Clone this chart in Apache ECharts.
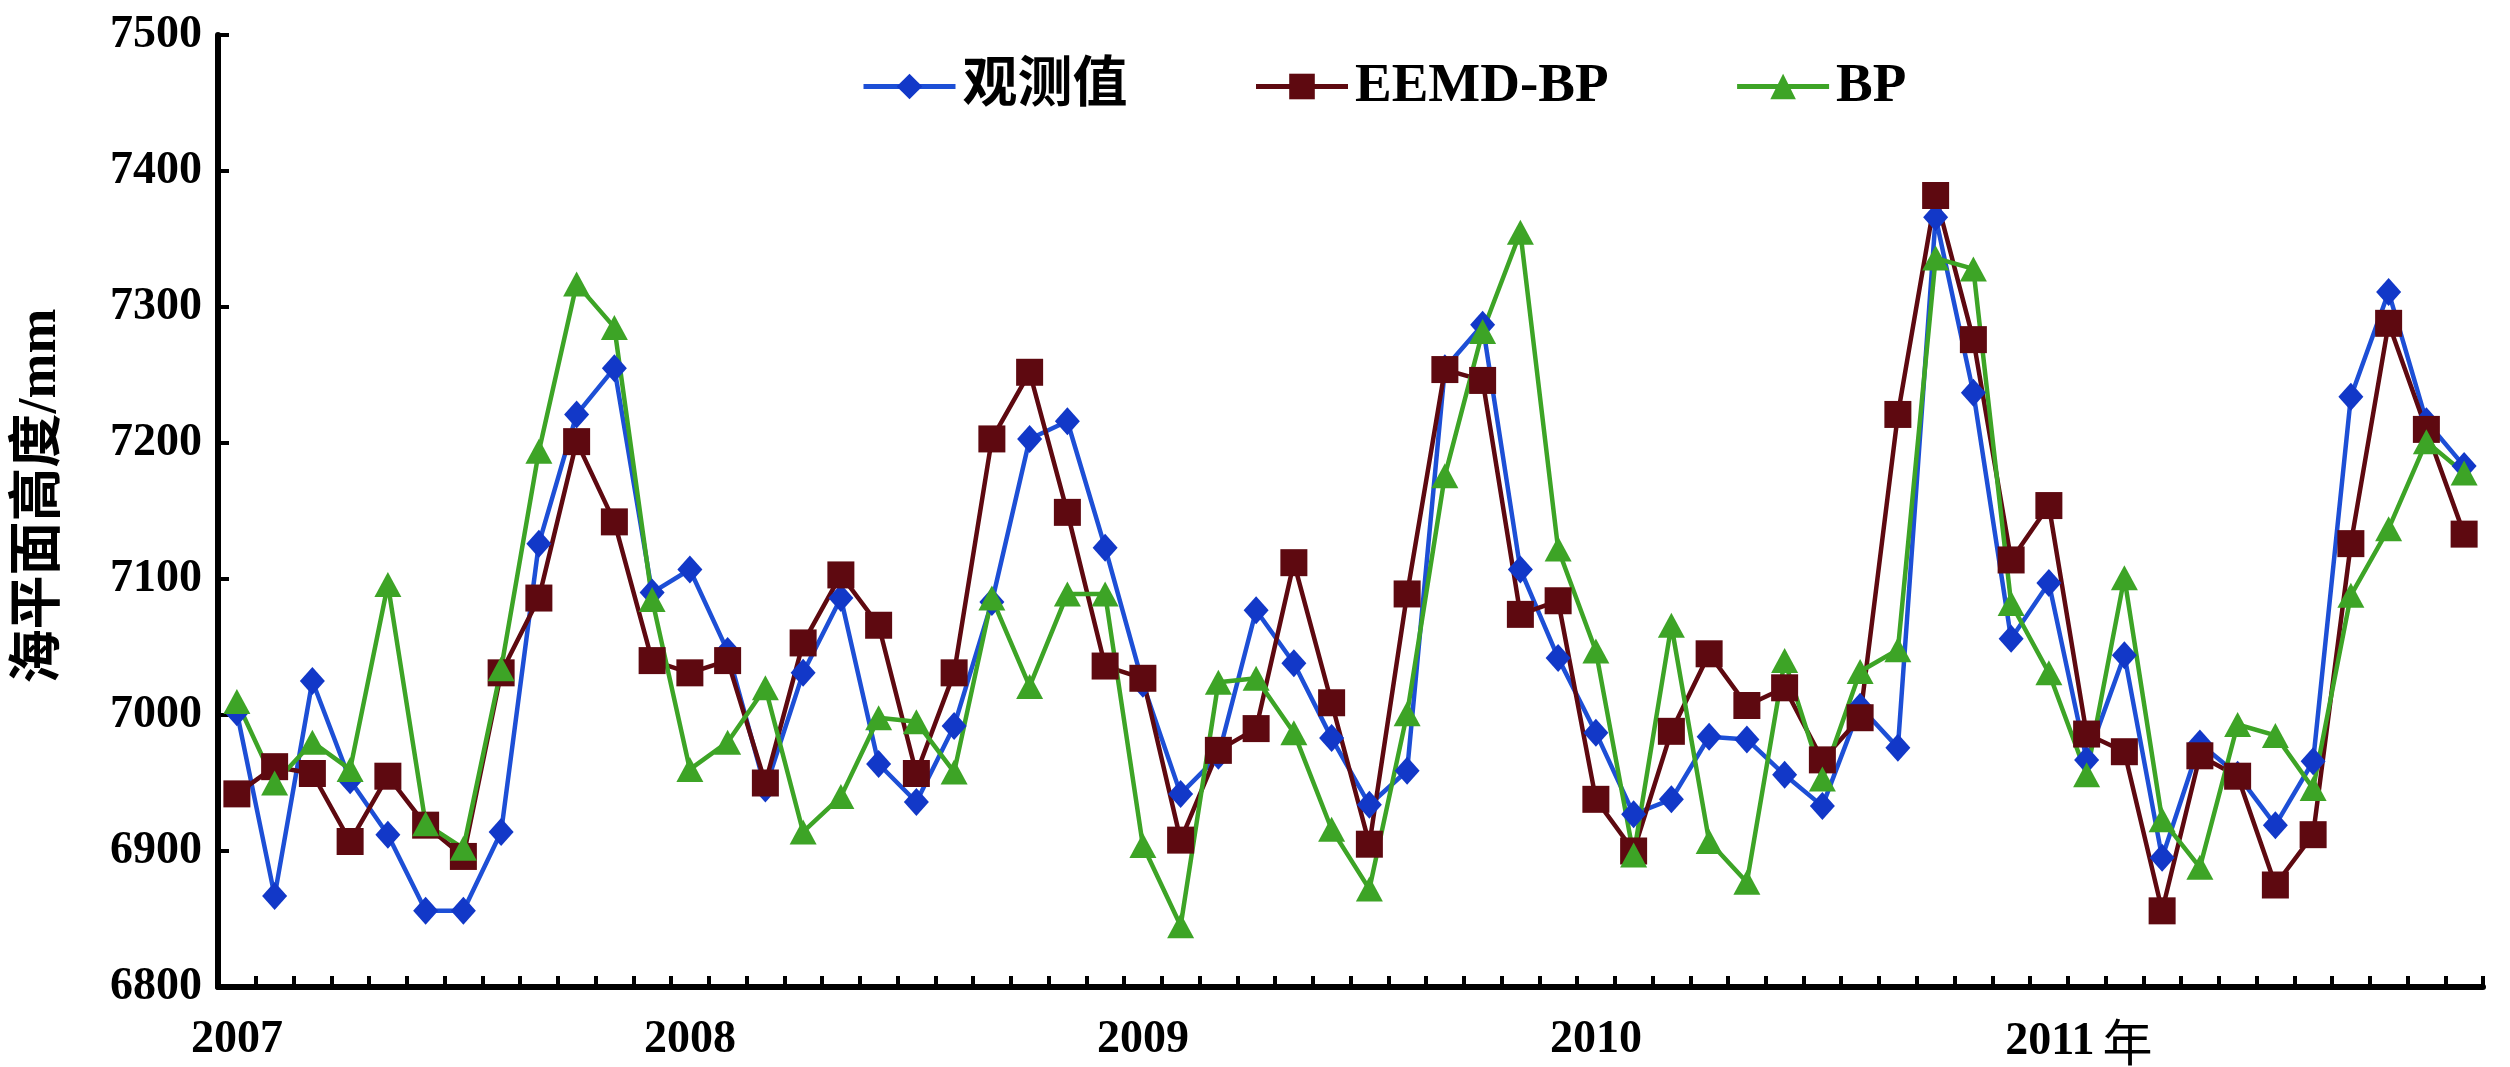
<!DOCTYPE html>
<html>
<head>
<meta charset="utf-8">
<script src="https://cdn.jsdelivr.net/npm/echarts@6/dist/echarts.min.js"></script>
<style>
html, body { margin: 0; padding: 0; background: #fff; }
#main { width: 2510px; height: 1067px; }
</style>
</head>
<body>
<div id="main"></div>
<script>
// 年份（每年12个月）
var years = ['2007', '2008', '2009', '2010', '2011'];
var yearLabels = ['2007', '2008', '2009', '2010', '2011'];

// 观测值
var observed = [
	7002, 6867, 7025, 6952, 6912, 6856, 6856, 6914, 7126, 7221, 7255, 7090,
	7107, 7047, 6946, 7031, 7086, 6964, 6936, 6992, 7083, 7203, 7216, 7123,
	7023, 6942, 6970, 7077, 7038, 6983, 6934, 6959, 7255, 7287, 7107, 7042,
	6987, 6927, 6938, 6984, 6982, 6956, 6933, 7006, 6976, 7366, 7237, 7056,
	7097, 6967, 7044, 6895, 6979, 6956, 6919, 6966, 7234, 7311, 7216, 7183
];
// EEMD-BP
var eemdBp = [
	6942, 6962, 6957, 6907, 6955, 6919, 6896, 7031, 7086, 7201, 7142, 7040,
	7031, 7040, 6950, 7053, 7103, 7066, 6957, 7031, 7203, 7252, 7149, 7036,
	7027, 6908, 6974, 6990, 7112, 7009, 6905, 7089, 7254, 7246, 7074, 7084,
	6938, 6900, 6988, 7045, 7007, 7020, 6967, 6998, 7221, 7382, 7276, 7114,
	7154, 6986, 6973, 6856, 6970, 6955, 6875, 6912, 7126, 7288, 7210, 7133
];
// BP
var bp = [
	7010, 6950, 6980, 6960, 7096, 6920, 6902, 7034, 7194, 7317, 7285, 7085,
	6960, 6980, 7020, 6914, 6940, 6998, 6995, 6958, 7086, 7021, 7089, 7089,
	6904, 6845, 7024, 7027, 6987, 6916, 6872, 7001, 7176, 7282, 7355, 7122,
	7047, 6897, 7066, 6907, 6877, 7040, 6953, 7032, 7048, 7336, 7328, 7082,
	7031, 6956, 7101, 6923, 6888, 6993, 6985, 6946, 7088, 7137, 7201, 7178
];

var months = [];
years.forEach(function (y) {
	for (var m = 1; m <= 12; m++) {
		months.push(y + '-' + (m < 10 ? '0' + m : m));
	}
});

var latinFont = "'Liberation Serif', 'Noto Sans CJK SC', serif";

var myChart = echarts.init(document.getElementById('main'));

option = {
	backgroundColor: '#fff',
	animation: false,
	grid: {
		left: 218,
		right: 27,
		top: 35,
		bottom: 80,
		containLabel: false
	},
	legend: {
		left: 856,
		top: 54,
		itemWidth: 92,
		itemHeight: 32,
		itemGap: 126,
		lineStyle: { width: 5 },
		textStyle: {
			fontFamily: latinFont,
			fontWeight: 'bold',
			fontSize: 55,
			color: '#000',
			padding: [0, 0, 0, 2]
		},
		data: ['观测值', 'EEMD-BP', 'BP']
	},
	xAxis: {
		type: 'category',
		boundaryGap: true,
		data: months,
		axisLine: {
			lineStyle: { color: '#000', width: 6 }
		},
		axisTick: {
			show: true,
			inside: true,
			interval: 0,
			length: 11,
			lineStyle: { color: '#000', width: 4 }
		},
		axisLabel: {
			interval: function (i) { return i % 12 === 0; },
			margin: 30,
			fontFamily: latinFont,
			fontWeight: 'bold',
			fontSize: 46,
			color: '#000',
			formatter: function (v, i) {
				var k = Math.floor(i / 12);
				if (k === yearLabels.length - 1) {
					return '{gap|}' + yearLabels[k] + '{nian|年}';
				}
				return yearLabels[k];
			},
			rich: {
				gap: { width: 60 },
				nian: {
					fontFamily: "'Noto Sans CJK SC'",
					fontSize: 50,
					fontWeight: 'normal',
					color: '#000',
					padding: [0, 0, 0, 8]
				}
			}
		},
		splitLine: { show: false }
	},
	yAxis: {
		type: 'value',
		min: 6800,
		max: 7500,
		interval: 100,
		name: '海平面高度/mm',
		nameLocation: 'middle',
		nameGap: 150,
		nameTextStyle: {
			fontFamily: latinFont,
			fontWeight: 'bold',
			fontSize: 54,
			color: '#000',
			padding: [0, 0, 0, 30]
		},
		axisLine: {
			show: true,
			lineStyle: { color: '#000', width: 6 }
		},
		axisTick: {
			show: true,
			inside: true,
			length: 11,
			lineStyle: { color: '#000', width: 4 }
		},
		axisLabel: {
			margin: 16,
			fontFamily: latinFont,
			fontWeight: 'bold',
			fontSize: 46,
			color: '#000',
			formatter: function (v) { return String(v); }
		},
		splitLine: { show: false }
	},
	series: [{
			name: '观测值',
			type: 'line',
			data: observed,
			symbol: 'diamond',
			symbolSize: [25, 28],
			showAllSymbol: true,
			color: '#1238c8',
			lineStyle: { width: 4.5, color: '#1d4fd6' },
			itemStyle: { color: '#1238c8' }
		},
		{
			name: 'EEMD-BP',
			type: 'line',
			data: eemdBp,
			symbol: 'rect',
			symbolSize: 27,
			showAllSymbol: true,
			color: '#5e0910',
			lineStyle: { width: 4.5, color: '#5e0910' },
			itemStyle: { color: '#5e0910' }
		},
		{
			name: 'BP',
			type: 'line',
			data: bp,
			symbol: 'triangle',
			symbolSize: [27, 25],
			showAllSymbol: true,
			color: '#3da426',
			lineStyle: { width: 4.5, color: '#3da426' },
			itemStyle: { color: '#3da426' }
		}
	]
};

myChart.setOption(option);
</script>
</body>
</html>
